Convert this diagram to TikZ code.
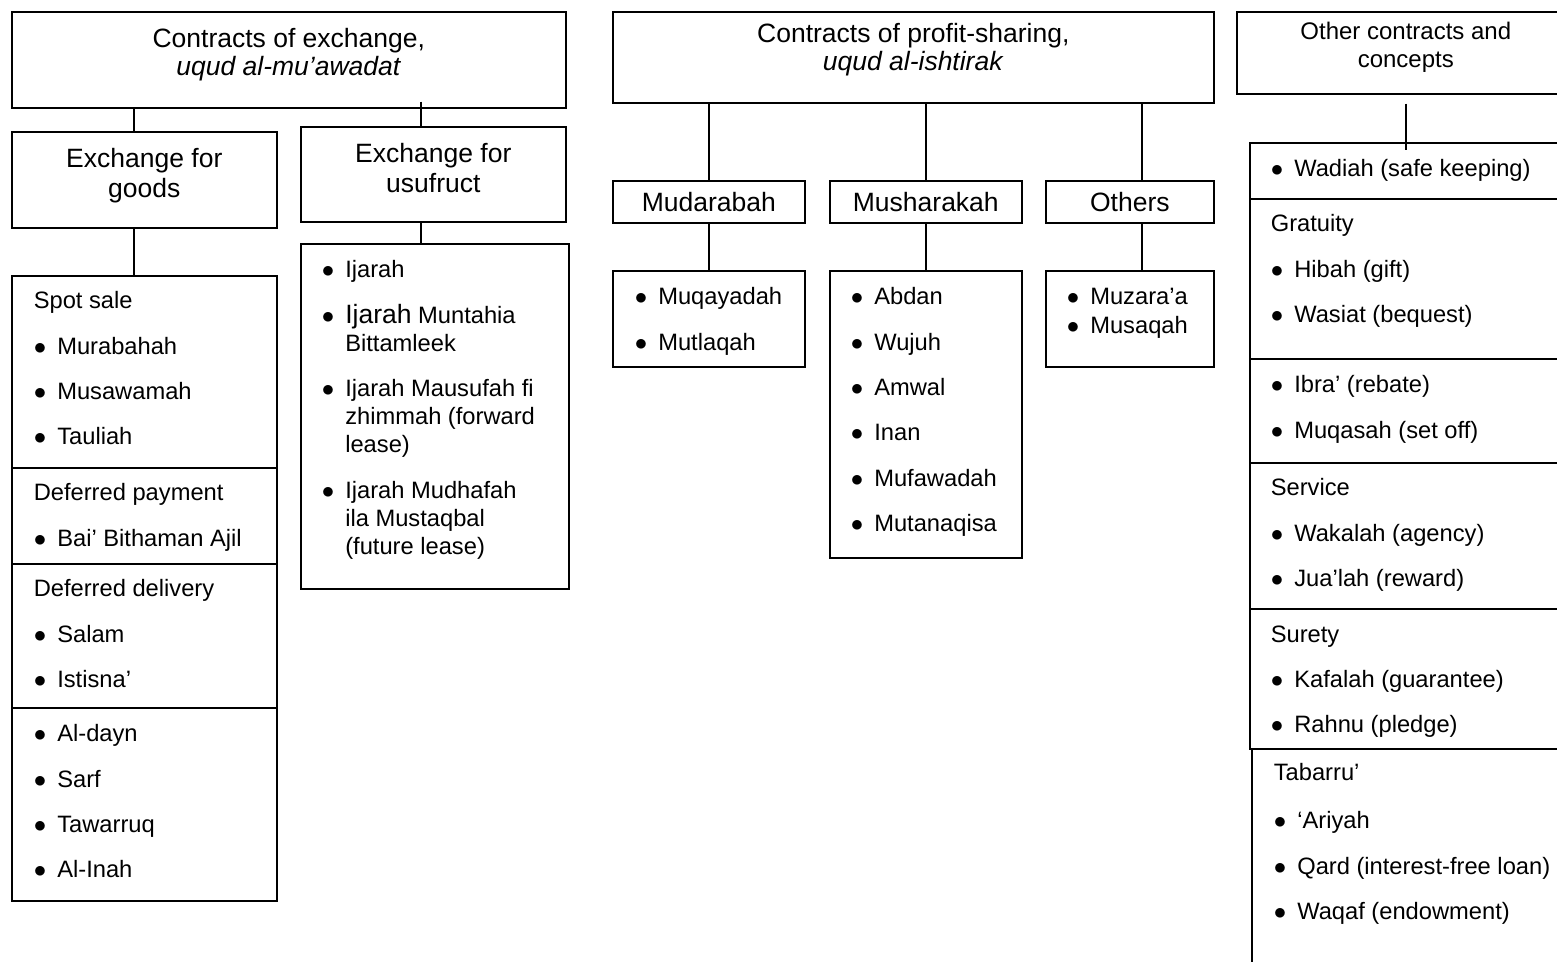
\documentclass[tikz,border=0pt]{standalone}
\usepackage{fontspec}
\setmainfont{Liberation Sans}
\usetikzlibrary{positioning}

\newcommand{\itm}{\makebox[23.5pt][l]{$\bullet$}}
\newcommand{\ind}{\hspace*{23.5pt}}

\begin{document}
\begin{tikzpicture}[
  x=1pt, y=-1pt,
  line width=1.6pt,
  box/.style={draw, inner sep=0pt, anchor=north west},
  title/.style={inner sep=0pt, align=center, font=\fontsize{26.5}{28.5}\selectfont},
  list/.style={inner sep=0pt, align=left, font=\fontsize{23.7}{45.3}\selectfont},
  tight/.style={font=\fontsize{23.7}{28}\selectfont}
]
\useasboundingbox (0,0) rectangle (1557,961);
\clip (0,0) rectangle (1557,961);

% Top level boxes
\node[box, minimum width=554pt, minimum height=96pt] (exch) at (11,11) {};
\node[box, minimum width=601pt, minimum height=91pt] (profit) at (612,11) {};
\node[box, minimum width=338pt, minimum height=82pt] (other) at (1236,11) {};
\node[title, below=16pt of exch.north] (exchTxt) {Contracts of exchange,\\ \textit{uqud al-mu’awadat}};
\node[title, below=11pt of profit.north] (profitTxt) {Contracts of profit-sharing,\\ \textit{uqud al-ishtirak}};
\node[title, font=\fontsize{24}{28}\selectfont, below=10pt of other.north] (otherTxt) {Other contracts and\\ concepts};

% Contracts of exchange
\node[box, minimum width=265pt, minimum height=96pt] (goods) at (11,131) {};
\node[box, minimum width=265pt, minimum height=95pt] (usuf) at (300,126) {};
\node[title, font=\fontsize{26.5}{30}\selectfont, below=16pt of goods.north] (goodsTxt) {Exchange for\\ goods};
\node[title, font=\fontsize{26.5}{30}\selectfont, below=16pt of usuf.north] (usufTxt) {Exchange for\\ usufruct};

\node[box, minimum width=265pt, minimum height=192pt] (spot) at (11,275) {};
\node[box, minimum width=265pt, minimum height=96pt] (defpay) at (11,467) {};
\node[box, minimum width=265pt, minimum height=144pt] (defdel) at (11,563) {};
\node[box, minimum width=265pt, minimum height=193pt] (misc) at (11,707) {};
\node[list, below right=16pt and 22pt of spot.north west] (spotTxt) {Spot sale\\ \itm Murabahah\\ \itm Musawamah\\ \itm Tauliah};
\node[list, below right=16pt and 22pt of defpay.north west] (defpayTxt) {Deferred payment\\ \itm Bai’ Bithaman Ajil};
\node[list, below right=16pt and 22pt of defdel.north west] (defdelTxt) {Deferred delivery\\ \itm Salam\\ \itm Istisna’};
\node[list, below right=17pt and 22pt of misc.north west] (miscTxt) {\itm Al-dayn\\ \itm Sarf\\ \itm Tawarruq\\ \itm Al-Inah};

\node[box, minimum width=268pt, minimum height=345pt] (usufl) at (300,243) {};
\node[list, tight, below right=17pt and 21pt of usufl.north west] (usuflTxt) {\itm Ijarah\\[17.5pt]
  \itm{\fontsize{26.5}{28}\selectfont Ijarah} Muntahia\\ \ind Bittamleek\\[17.5pt]
  \itm Ijarah Mausufah fi\\ \ind zhimmah (forward\\ \ind lease)\\[17.5pt]
  \itm Ijarah Mudhafah\\ \ind ila Mustaqbal\\ \ind (future lease)};

\draw ([xshift=-10.5pt]goods.north |- exch.south) -- ([xshift=-10.5pt]goods.north);
\draw ([xshift=-10.5pt]goods.south) -- ([xshift=-10.5pt]spot.north);
\draw ([xshift=-12.5pt,yshift=7pt]usuf.north |- exch.south) -- ([xshift=-12.5pt]usuf.north);
\draw ([xshift=-12.5pt]usuf.south) -- ([xshift=-12.5pt]usuf.south |- usufl.north);

% Contracts of profit-sharing
\node[box, title, minimum width=192pt, minimum height=42pt] (mud) at (612,180) {Mudarabah};
\node[box, title, minimum width=192pt, minimum height=42pt] (mus) at (829,180) {Musharakah};
\node[box, title, minimum width=168pt, minimum height=42pt] (oth) at (1045,180) {Others};

\node[box, minimum width=192pt, minimum height=96pt] (mudl) at (612,270) {};
\node[box, minimum width=192pt, minimum height=287pt] (musl) at (829,270) {};
\node[box, minimum width=168pt, minimum height=96pt] (othl) at (1045,270) {};
\node[list, below right=17pt and 22pt of mudl.north west] (mudlTxt) {\itm Muqayadah\\ \itm Mutlaqah};
\node[list, below right=17pt and 21pt of musl.north west] (muslTxt) {\itm Abdan\\ \itm Wujuh\\ \itm Amwal\\ \itm Inan\\ \itm Mufawadah\\ \itm Mutanaqisa};
\node[list, tight, font=\fontsize{23.7}{29}\selectfont, below right=17pt and 21pt of othl.north west] (othlTxt) {\itm Muzara’a\\ \itm Musaqah};

\foreach \n in {mud,mus} {
  \draw (\n.north |- profit.south) -- (\n.north);
  \draw (\n.south) -- (\n l.north);
}
\draw ([xshift=12pt]oth.north |- profit.south) -- ([xshift=12pt]oth.north);
\draw ([xshift=12pt]oth.south) -- ([xshift=12pt]othl.north);

% Other contracts and concepts
\node[box, minimum width=312pt, minimum height=56pt] (wadiah) at (1249,142) {};
\node[box, minimum width=312pt, minimum height=160pt] (grat) at (1249,198) {};
\node[box, minimum width=312pt, minimum height=104pt] (rebate) at (1249,358) {};
\node[box, minimum width=312pt, minimum height=146pt] (service) at (1249,462) {};
\node[box, minimum width=312pt, minimum height=140pt] (surety) at (1249,608) {};
\node[box, minimum width=310pt, minimum height=230pt] (tabarru) at (1251,748) {};
\node[list, below right=17pt and 21pt of wadiah.north west] (wadiahTxt) {\itm Wadiah (safe keeping)};
\node[list, below right=16pt and 21pt of grat.north west] (gratTxt) {Gratuity\\ \itm Hibah (gift)\\ \itm Wasiat (bequest)};
\node[list, below right=17pt and 21pt of rebate.north west] (rebateTxt) {\itm Ibra’ (rebate)\\ \itm Muqasah (set off)};
\node[list, below right=16pt and 21pt of service.north west] (serviceTxt) {Service\\ \itm Wakalah (agency)\\ \itm Jua’lah (reward)};
\node[list, below right=17pt and 21pt of surety.north west] (suretyTxt) {Surety\\ \itm Kafalah (guarantee)\\ \itm Rahnu (pledge)};
\node[list, below right=15pt and 22pt of tabarru.north west] (tabarruTxt) {Tabarru’\\[2.7pt] \itm ‘Ariyah\\ \itm Qard (interest-free loan)\\ \itm Waqaf (endowment)};

\draw ([yshift=-9pt]other.south) -- ([yshift=-8pt]wadiah.north);

\end{tikzpicture}
\end{document}
